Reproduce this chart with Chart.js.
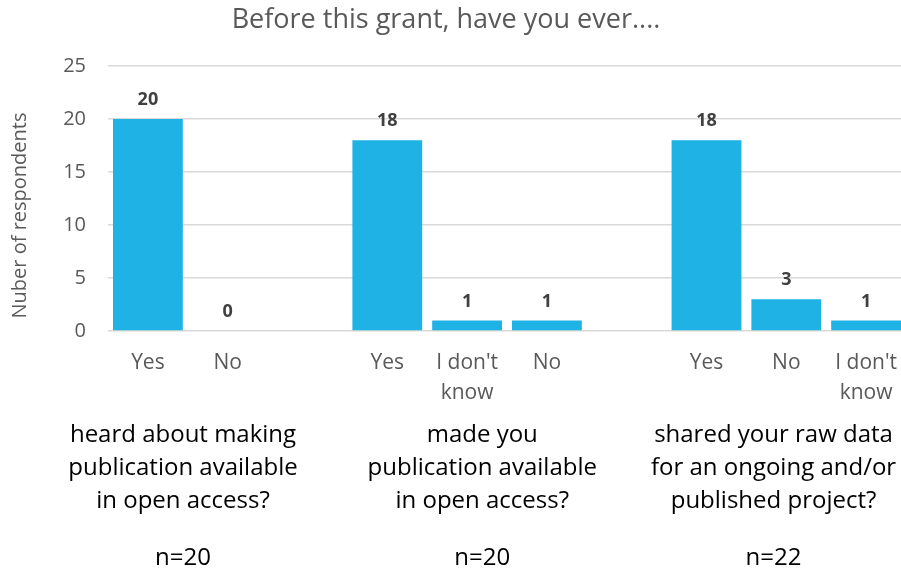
<!doctype html>
<html lang="en">
<head>
<meta charset="utf-8">
<title>Before this grant</title>
<script src="https://cdn.jsdelivr.net/npm/chart.js@4.4.0/dist/chart.umd.min.js"></script>
<style>
  html, body { margin: 0; padding: 0; background: #fff; overflow: hidden; }
  #wrap { position: relative; width: 906px; height: 575px; }
</style>
</head>
<body>
<div id="wrap"><canvas id="grantChart"></canvas></div>

<script>
// answer categories, one per slot ('' = gap between questions)
var categories = ['Yes', 'No', '', 'Yes', ["I don't", 'know'], 'No', '', 'Yes', 'No', ["I don't", 'know']];
var respondents = [20, 0, null, 18, 1, 1, null, 18, 3, 1];
var yTicks = [0, 5, 10, 15, 20, 25];

// question text under each group, with n
var questions = [
  ['heard about making', 'publication available', 'in open access?'],
  ['made you', 'publication available', 'in open access?'],
  ['shared your raw data', 'for an ongoing and/or', 'published project?']
];
var sampleSizes = ['n=20', 'n=20', 'n=22'];
var questionSlot = [0.44, 4.19, 7.84];
var chartTitle = 'Before this grant, have you ever....';
var yTitle = 'Nuber of respondents';

var grey = '#595959';
var face = "'Open Sans'";

// value labels above the bars
var barLabels = {
  id: 'barLabels',
  afterDatasetsDraw: function(chart) {
    var ctx = chart.ctx;
    var meta = chart.getDatasetMeta(0);
    ctx.save();
    ctx.font = 'bold 18px ' + face;
    ctx.fillStyle = '#404040';
    ctx.textAlign = 'center';
    ctx.textBaseline = 'middle';
    meta.data.forEach(function(bar, i) {
      var v = respondents[i];
      if (v === null) return;
      ctx.fillText(String(v), bar.x, bar.y - 19);
    });
    ctx.restore();
  }
};

// title, question captions below the axis, y title (sits a bit low in the original)
var extraText = {
  id: 'extraText',
  afterDraw: function(chart) {
    var ctx = chart.ctx;
    var x = chart.scales.x;
    var area = chart.chartArea;
    ctx.save();
    ctx.textAlign = 'center';
    ctx.textBaseline = 'middle';

    // canvas is a few px wider than the window, so centre on the visible part
    ctx.font = '27px ' + face;
    ctx.fillStyle = grey;
    ctx.fillText(chartTitle, 446, 20);

    ctx.font = '24px ' + face;
    ctx.fillStyle = '#000';
    questions.forEach(function(lines, g) {
      var cx = x.getPixelForValue(questionSlot[g]);
      lines.forEach(function(line, k) {
        ctx.fillText(line, cx, 435 + k * 33);
      });
      ctx.fillText(sampleSizes[g], cx, 558);
    });

    ctx.translate(20, (area.top + area.bottom) / 2 + 17);
    ctx.rotate(-Math.PI / 2);
    ctx.font = '20px ' + face;
    ctx.fillStyle = grey;
    ctx.fillText(yTitle, 0, 0);
    ctx.restore();
  }
};

var chart = new Chart(document.getElementById('grantChart'), {
  type: 'bar',
  data: {
    labels: categories,
    datasets: [{
      data: respondents,
      backgroundColor: '#1FB2E4',
      borderWidth: 0,
      categoryPercentage: 1,
      barPercentage: 0.875
    }]
  },
  options: {
    responsive: true,
    maintainAspectRatio: false,
    animation: false,
    layout: { padding: { top: 66, right: 0, bottom: 0, left: 0 } },
    plugins: {
      legend: { display: false },
      tooltip: { enabled: false },
      title: { display: false }
    },
    scales: {
      x: {
        grid: { display: false, drawTicks: false },
        border: { display: false },
        ticks: {
          color: grey,
          font: { family: face, size: 21, lineHeight: 1.42 },
          padding: 17,
          maxRotation: 0,
          autoSkip: false
        },
        afterFit: function(scale) {
          scale.height = 244;
          scale.paddingLeft = 0;
          scale.paddingRight = 0;
        }
      },
      y: {
        min: 0,
        max: 25,
        afterBuildTicks: function(scale) {
          scale.ticks = yTicks.map(function(v) { return { value: v }; });
        },
        grid: { color: '#d9d9d9', lineWidth: 1.5, drawTicks: false },
        border: { display: false },
        ticks: {
          color: grey,
          font: { family: face, size: 20 },
          padding: 22
        },
        afterFit: function(scale) {
          scale.width = 108;
          scale.paddingTop = 0;
        }
      }
    }
  },
  plugins: [barLabels, extraText]
});
</script>
</body>
</html>
